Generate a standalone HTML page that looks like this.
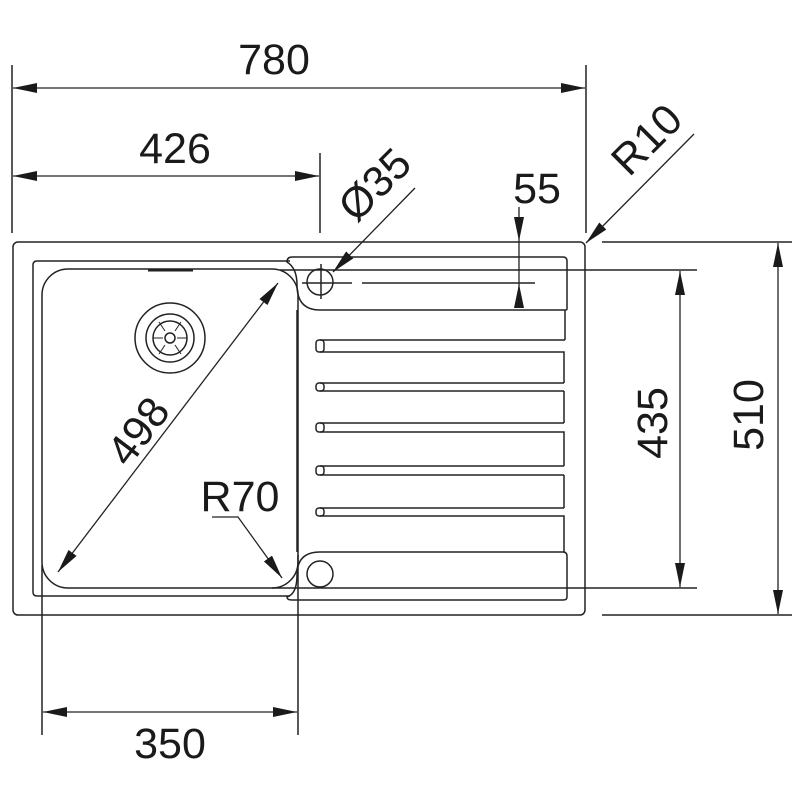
<!DOCTYPE html>
<html><head><style>body{margin:0;background:#fff}svg{display:block}text{font-family:"Liberation Sans",Arial,sans-serif;font-size:43px;fill:#1a1a1a}</style></head>
<body>
<svg width="800" height="800" viewBox="0 0 800 800" xmlns="http://www.w3.org/2000/svg">
<defs>
<marker id="a" viewBox="0 0 24 10" refX="24" refY="5" markerWidth="24" markerHeight="10" markerUnits="userSpaceOnUse" orient="auto-start-reverse"><path d="M0,0 L24,5 L0,10 Z" fill="#1a1a1a"/></marker>
</defs>
<g stroke="#222" stroke-width="1.5" fill="none">
<rect x="13" y="242" width="572" height="373" rx="5"/>
<path d="M290,261 L37,261 Q33,261 33,265 L33,592 Q33,596 37,596 L290,596"/>
<rect x="42" y="269" width="256" height="319" rx="26"/>
<path d="M148,270 L193,270" stroke-width="3"/>
<circle cx="170" cy="338" r="35"/>
<circle cx="170" cy="338" r="24"/>
<circle cx="170" cy="338" r="17"/>
<circle cx="170" cy="338" r="5"/>
<path d="M165,331 L159,322 M175,331 L181,322 M175,345 L181,354 M165,345 L159,354 M163,338 L153,338 M177,338 L187,338" stroke-width="1"/>
<path d="M287,262 Q287,257 292,257 L563,257 Q567,257 567,261 L567,309 Q567,310 565,310 L320,310 Q297,310 297,285 Q297,268 287,262 Z"/>
<circle cx="320" cy="282" r="13"/>
<path d="M302,283 L352,283 M362,283 L535,283" />
<path d="M321,264 L321,299" />
<path d="M297,310 L297,552"/>
<path d="M565,310 L565,340 M320,340 L565,340 M320,352 L564,352 L564,383"/>
<rect x="316" y="340" width="8" height="12" rx="3"/>
<path d="M320,383 L564,383 M320,391 L564,391"/><rect x="316" y="383" width="8" height="8" rx="3"/>
<path d="M564,391 L564,423 M320,423 L564,423 M320,432 L564,432 L564,466"/><rect x="316" y="423" width="8" height="9" rx="3"/>
<path d="M320,466 L564,466 M320,475 L564,475"/><rect x="316" y="466" width="8" height="9" rx="3"/>
<path d="M564,475 L564,508 M320,508 L564,508 M320,516 L564,516 L564,552"/><rect x="316" y="508" width="8" height="8" rx="3"/>
<path d="M320,552 L563,552 Q567,552 567,556 L567,597 Q567,600 563,600 L292,600 Q287,600 287,597 Q297,594 297,575 Q297,552 320,552 Z"/>
<circle cx="320" cy="574" r="13"/>
<path d="M12,65 L12,233 M586,65 L586,233 M320,153 L320,233"/>
<path d="M280,270 L697,270 M272,588 L697,588 M602,242 L792,242 M602,615 L792,615"/>
<path d="M42,565 L42,735 M298,555 L298,735"/>
</g>
<g stroke="#222" stroke-width="1.3" fill="none">
<line x1="13" y1="88" x2="585" y2="88" marker-start="url(#a)" marker-end="url(#a)"/>
<line x1="13" y1="176" x2="319" y2="176" marker-start="url(#a)" marker-end="url(#a)"/>
<line x1="43" y1="712" x2="297" y2="712" marker-start="url(#a)" marker-end="url(#a)"/>
<line x1="680" y1="271" x2="680" y2="587" marker-start="url(#a)" marker-end="url(#a)"/>
<line x1="778" y1="243" x2="778" y2="614" marker-start="url(#a)" marker-end="url(#a)"/>
<line x1="519" y1="207" x2="519" y2="241" marker-end="url(#a)"/>
<line x1="519" y1="305" x2="519" y2="284" marker-end="url(#a)"/>
<line x1="519" y1="241" x2="519" y2="284"/>
<line x1="415" y1="188" x2="333" y2="272" marker-end="url(#a)"/>
<line x1="694" y1="134" x2="586" y2="243" marker-end="url(#a)"/>
<line x1="278" y1="283" x2="58" y2="572" marker-start="url(#a)" marker-end="url(#a)"/>
<path d="M212,517 L238,517 L282,578" marker-end="url(#a)"/>
</g>
<text x="274" y="74" text-anchor="middle">780</text>
<text x="175" y="163" text-anchor="middle">426</text>
<text x="170" y="758" text-anchor="middle">350</text>
<text x="537" y="203" text-anchor="middle">55</text>
<text x="240" y="511" text-anchor="middle">R70</text>
<text transform="translate(667,423) rotate(-90)" text-anchor="middle">435</text>
<text transform="translate(763,415) rotate(-90)" text-anchor="middle">510</text>
<text transform="translate(385,195) rotate(-45)" text-anchor="middle">Ø35</text>
<text transform="translate(657,150) rotate(-45)" text-anchor="middle">R10</text>
<text transform="translate(150,440) rotate(-53)" text-anchor="middle">498</text>
</svg>
</body></html>
